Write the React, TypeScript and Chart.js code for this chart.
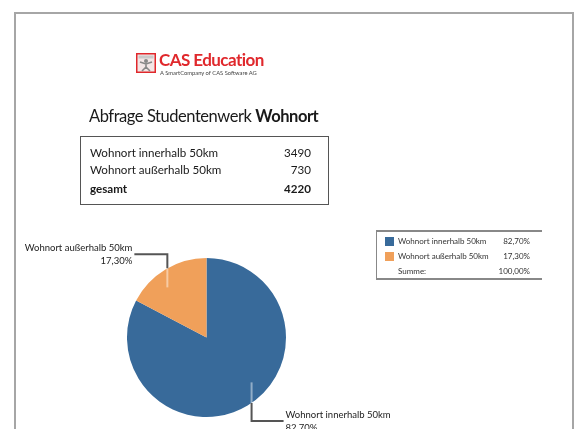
import React, { useEffect, useRef } from "react";
import { Chart, registerables } from "chart.js";

Chart.register(...registerables);

const categories = ["Wohnort innerhalb 50km", "Wohnort außerhalb 50km"];
const values = [3490, 730];
const colors = ["#386a9a", "#f0a05a"];
const totalLabel = "gesamt";
const sumLabel = "Summe:";
const titleText = "Abfrage Studentenwerk ";
const titleBold = "Wohnort";
const logoText = "CAS Education";
const logoSub = "A SmartCompany of CAS Software AG";

const total = values.reduce((a, b) => a + b, 0);
const pct = (v: number) => ((v / total) * 100).toFixed(2).replace(".", ",") + "%";

// leader-line styling per slice
const anchorFrac = [0.453, 0.39];
const leaderOut = [18, 14];
const leaderHoriz = [32, 33];

const FONT = "Lato, 'DejaVu Sans', sans-serif";

const leaderPlugin = {
  id: "leaders",
  afterDatasetsDraw(chart: any) {
    const ctx = chart.ctx;
    const meta = chart.getDatasetMeta(0);
    meta.data.forEach((arc: any, i: number) => {
      const p = arc.getProps(["x", "y", "startAngle", "endAngle", "outerRadius"], true);
      const a = p.startAngle + (p.endAngle - p.startAngle) * anchorFrac[i];
      const r = p.outerRadius;
      const ax = p.x + Math.cos(a) * r * 0.8;
      const ay = p.y + Math.sin(a) * r * 0.8;
      const vdir = Math.sin(a) < 0 ? -1 : 1;
      const hdir = Math.cos(a) < 0 ? -1 : 1;
      const dx = ax - p.x;
      const edgeY = p.y + vdir * Math.sqrt(Math.max(r * r - dx * dx, 0));
      const ly = edgeY + vdir * leaderOut[i];
      const lx = ax + hdir * leaderHoriz[i];
      ctx.save();
      ctx.lineWidth = 2;
      ctx.strokeStyle = "rgba(255,255,255,0.45)";
      ctx.beginPath();
      ctx.moveTo(ax, ay);
      ctx.lineTo(ax, edgeY);
      ctx.stroke();
      ctx.strokeStyle = "#555";
      ctx.beginPath();
      ctx.moveTo(ax, edgeY);
      ctx.lineTo(ax, ly);
      ctx.lineTo(lx, ly);
      ctx.stroke();
      ctx.fillStyle = "#222";
      ctx.font = "9.5px " + FONT;
      ctx.textBaseline = "middle";
      ctx.textAlign = hdir < 0 ? "right" : "left";
      const tx = lx + hdir * 2;
      ctx.fillText(categories[i], tx, ly - 6);
      ctx.fillText(pct(values[i]), tx, ly + 7);
      ctx.restore();
    });
  },
};

function PieChart() {
  const ref = useRef<HTMLCanvasElement>(null);
  useEffect(() => {
    if (!ref.current) return;
    const chart = new Chart(ref.current, {
      type: "pie",
      data: {
        labels: categories,
        datasets: [
          {
            data: values,
            backgroundColor: colors,
            borderWidth: 0,
          },
        ],
      },
      options: {
        animation: false,
        responsive: false,
        layout: { padding: { left: 127, right: 295, top: 258, bottom: 12 } },
        plugins: { legend: { display: false }, tooltip: { enabled: false } },
      },
      plugins: [leaderPlugin],
    });
    return () => chart.destroy();
  }, []);
  return (
    <canvas
      ref={ref}
      width={581}
      height={429}
      style={{ position: "absolute", left: 0, top: 0, width: 581, height: 429 }}
    />
  );
}

const abs = (s: React.CSSProperties): React.CSSProperties => ({ position: "absolute", ...s });

export default function App() {
  return (
    <div
      style={{
        position: "fixed",
        left: 0,
        top: 0,
        width: 581,
        height: 429,
        overflow: "hidden",
        background: "#fff",
        fontFamily: FONT,
        color: "#1a1a1a",
      }}
    >
      {/* page border */}
      <div
        style={abs({
          left: 14,
          top: 12,
          width: 560,
          height: 500,
          borderTop: "2px solid #a6a6a6",
          borderLeft: "2px solid #a6a6a6",
          borderRight: "2px solid #a6a6a6",
          boxSizing: "border-box",
        })}
      />
      <PieChart />

      {/* logo */}
      <svg style={abs({ left: 136, top: 53 })} width={20} height={20} viewBox="0 0 20 20">
        <rect x={0.75} y={0.75} width={18.5} height={18.5} fill="#f3e6e6" stroke="#e0282c" strokeWidth={1.5} />
        <rect x={2.5} y={2.5} width={15} height={3} fill="#c9c9c9" />
        <circle cx={10} cy={8} r={2} fill="#888" />
        <path d="M4 9 L10 11 L16 9 M10 11 L10 14 L6 18 M10 14 L14 18" stroke="#888" strokeWidth={1.6} fill="none" />
      </svg>
      <div
        style={abs({
          left: 159,
          top: 49,
          fontSize: 17,
          fontWeight: 700,
          color: "#e0282c",
          lineHeight: "22px",
          whiteSpace: "nowrap",
          letterSpacing: -0.55,
        })}
      >
        {logoText}
      </div>
      <div
        style={abs({
          left: 160,
          top: 69,
          fontSize: 5.8,
          color: "#444",
          lineHeight: "7px",
          whiteSpace: "nowrap",
        })}
      >
        {logoSub}
      </div>

      {/* title */}
      <div style={abs({ left: 89, top: 105, fontSize: 16.5, letterSpacing: -0.45, lineHeight: "22px", whiteSpace: "nowrap" })}>
        {titleText}
        <b>{titleBold}</b>
      </div>

      {/* table */}
      <div
        style={abs({
          left: 80,
          top: 136,
          width: 249,
          height: 69,
          border: "1.5px solid #555",
          boxSizing: "border-box",
        })}
      />
      {categories.map((c, i) => (
        <React.Fragment key={c}>
          <div style={abs({ left: 90, top: 145 + i * 17, fontSize: 11.6, lineHeight: "16px", whiteSpace: "nowrap" })}>{c}</div>
          <div style={abs({ left: 250, width: 61, textAlign: "right", top: 145 + i * 17, fontSize: 11.6, lineHeight: "16px" })}>
            {values[i]}
          </div>
        </React.Fragment>
      ))}
      <div style={abs({ left: 90, top: 181, fontSize: 11.6, fontWeight: 700, lineHeight: "16px" })}>{totalLabel}</div>
      <div style={abs({ left: 250, width: 61, textAlign: "right", top: 181, fontSize: 11.6, fontWeight: 700, lineHeight: "16px" })}>
        {total}
      </div>

      {/* legend */}
      <div
        style={abs({
          left: 376,
          top: 230,
          width: 166,
          height: 50,
          borderTop: "2px solid #888",
          borderBottom: "2px solid #888",
          borderLeft: "1.5px solid #888",
          boxSizing: "border-box",
        })}
      />
      {categories.map((c, i) => (
        <React.Fragment key={"l" + c}>
          <div style={abs({ left: 385, top: 237 + i * 15, width: 9, height: 9, background: colors[i] })} />
          <div style={abs({ left: 398, top: 236 + i * 15, fontSize: 8, lineHeight: "10px", whiteSpace: "nowrap", color: "#333" })}>{c}</div>
          <div style={abs({ left: 480, width: 50, textAlign: "right", top: 236 + i * 15, fontSize: 8, lineHeight: "10px", color: "#333" })}>
            {pct(values[i])}
          </div>
        </React.Fragment>
      ))}
      <div style={abs({ left: 398, top: 266, fontSize: 8, lineHeight: "10px", color: "#333" })}>{sumLabel}</div>
      <div style={abs({ left: 480, width: 50, textAlign: "right", top: 266, fontSize: 8, lineHeight: "10px", color: "#333" })}>
        {pct(total)}
      </div>
    </div>
  );
}
